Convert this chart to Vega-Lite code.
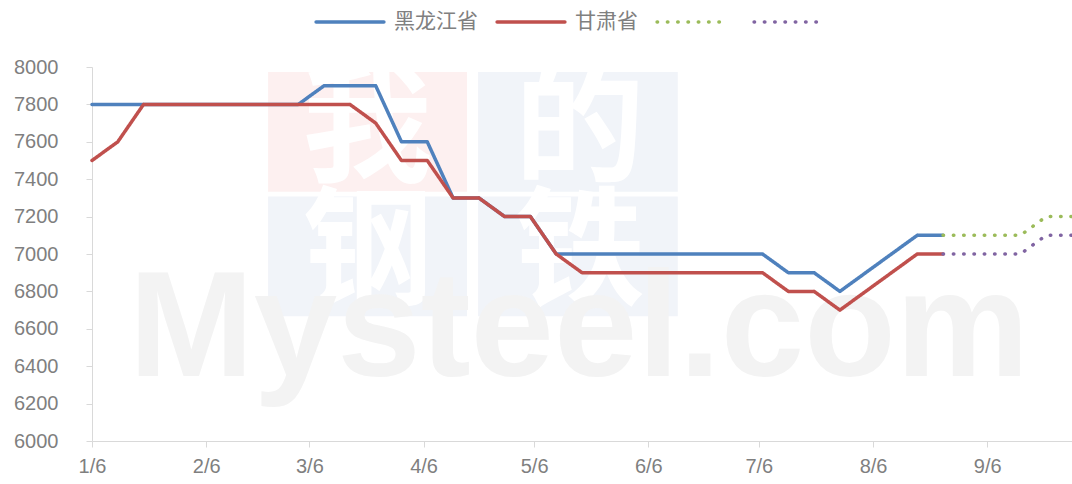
{
  "$schema": "https://vega.github.io/schema/vega-lite/v6.json",
  "width": 980,
  "height": 374,
  "autosize": "none",
  "padding": {"left": 92, "top": 67, "right": 0, "bottom": 43},
  "background": "white",
  "config": {
    "view": {"stroke": null},
    "font": "Liberation Sans",
    "axis": {"labelOverlap": false, "labelFlush": false, "grid": false, "title": null},
    "axisY": {"labelOverlap": false}
  },
  "layer": [
    {
      "data": {"values": [{"block": 1}]},
      "mark": {"type": "rect", "color": "#fdf0f0"},
      "encoding": {
        "x": {"datum": {"year": 2023, "month": 2, "date": 22, "hours": 19}, "type": "temporal"},
        "x2": {"datum": {"year": 2023, "month": 4, "date": 17, "hours": 19}},
        "y": {"datum": 7973, "type": "quantitative", "axis": {"title": null, "grid": false, "values": [6000, 6200, 6400, 6600, 6800, 7000, 7200, 7400, 7600, 7800, 8000], "format": "d", "domainColor": "#d9d9d9", "tickColor": "#d9d9d9", "tickSize": 6, "labelFontSize": 20, "labelColor": "#7f7f7f", "labelPadding": 28, "labelOverlap": false, "labelFlush": false}},
        "y2": {"datum": 7333}
      }
    },
    {
      "data": {"values": [{"block": 2}]},
      "mark": {"type": "rect", "color": "#f1f4f9"},
      "encoding": {
        "x": {"datum": {"year": 2023, "month": 4, "date": 20, "hours": 19}, "type": "temporal"},
        "x2": {"datum": {"year": 2023, "month": 6, "date": 14}},
        "y": {"datum": 7973, "type": "quantitative", "axis": {"title": null, "grid": false, "values": [6000, 6200, 6400, 6600, 6800, 7000, 7200, 7400, 7600, 7800, 8000], "format": "d", "domainColor": "#d9d9d9", "tickColor": "#d9d9d9", "tickSize": 6, "labelFontSize": 20, "labelColor": "#7f7f7f", "labelPadding": 28, "labelOverlap": false, "labelFlush": false}},
        "y2": {"datum": 7333}
      }
    },
    {
      "data": {"values": [{"block": 3}]},
      "mark": {"type": "rect", "color": "#f1f4f9"},
      "encoding": {
        "x": {"datum": {"year": 2023, "month": 2, "date": 22, "hours": 19}, "type": "temporal"},
        "x2": {"datum": {"year": 2023, "month": 4, "date": 17, "hours": 19}},
        "y": {"datum": 7307, "type": "quantitative", "axis": {"title": null, "grid": false, "values": [6000, 6200, 6400, 6600, 6800, 7000, 7200, 7400, 7600, 7800, 8000], "format": "d", "domainColor": "#d9d9d9", "tickColor": "#d9d9d9", "tickSize": 6, "labelFontSize": 20, "labelColor": "#7f7f7f", "labelPadding": 28, "labelOverlap": false, "labelFlush": false}},
        "y2": {"datum": 6667}
      }
    },
    {
      "data": {"values": [{"block": 4}]},
      "mark": {"type": "rect", "color": "#f1f4f9"},
      "encoding": {
        "x": {"datum": {"year": 2023, "month": 4, "date": 20, "hours": 19}, "type": "temporal"},
        "x2": {"datum": {"year": 2023, "month": 6, "date": 14}},
        "y": {"datum": 7307, "type": "quantitative", "axis": {"title": null, "grid": false, "values": [6000, 6200, 6400, 6600, 6800, 7000, 7200, 7400, 7600, 7800, 8000], "format": "d", "domainColor": "#d9d9d9", "tickColor": "#d9d9d9", "tickSize": 6, "labelFontSize": 20, "labelColor": "#7f7f7f", "labelPadding": 28, "labelOverlap": false, "labelFlush": false}},
        "y2": {"datum": 6667}
      }
    },
    {
      "data": {"values": [{"block": 1}]},
      "mark": {"type": "text", "text": "我", "font": "Noto Sans CJK SC", "fontWeight": "bold", "fontSize": 130, "color": "white", "align": "center", "baseline": "middle"},
      "encoding": {
        "x": {"datum": {"year": 2023, "month": 3, "date": 21, "hours": 19}, "type": "temporal"},
        "y": {"datum": 7653, "type": "quantitative", "axis": {"title": null, "grid": false, "values": [6000, 6200, 6400, 6600, 6800, 7000, 7200, 7400, 7600, 7800, 8000], "format": "d", "domainColor": "#d9d9d9", "tickColor": "#d9d9d9", "tickSize": 6, "labelFontSize": 20, "labelColor": "#7f7f7f", "labelPadding": 28, "labelOverlap": false, "labelFlush": false}}
      }
    },
    {
      "data": {"values": [{"block": 2}]},
      "mark": {"type": "text", "text": "的", "font": "Noto Sans CJK SC", "fontWeight": "bold", "fontSize": 130, "color": "white", "align": "center", "baseline": "middle"},
      "encoding": {
        "x": {"datum": {"year": 2023, "month": 5, "date": 18, "hours": 9}, "type": "temporal"},
        "y": {"datum": 7653, "type": "quantitative", "axis": {"title": null, "grid": false, "values": [6000, 6200, 6400, 6600, 6800, 7000, 7200, 7400, 7600, 7800, 8000], "format": "d", "domainColor": "#d9d9d9", "tickColor": "#d9d9d9", "tickSize": 6, "labelFontSize": 20, "labelColor": "#7f7f7f", "labelPadding": 28, "labelOverlap": false, "labelFlush": false}}
      }
    },
    {
      "data": {"values": [{"block": 3}]},
      "mark": {"type": "text", "text": "钢", "font": "Noto Sans CJK SC", "fontWeight": "bold", "fontSize": 130, "color": "white", "align": "center", "baseline": "middle"},
      "encoding": {
        "x": {"datum": {"year": 2023, "month": 3, "date": 21, "hours": 19}, "type": "temporal"},
        "y": {"datum": 6987, "type": "quantitative", "axis": {"title": null, "grid": false, "values": [6000, 6200, 6400, 6600, 6800, 7000, 7200, 7400, 7600, 7800, 8000], "format": "d", "domainColor": "#d9d9d9", "tickColor": "#d9d9d9", "tickSize": 6, "labelFontSize": 20, "labelColor": "#7f7f7f", "labelPadding": 28, "labelOverlap": false, "labelFlush": false}}
      }
    },
    {
      "data": {"values": [{"block": 4}]},
      "mark": {"type": "text", "text": "铁", "font": "Noto Sans CJK SC", "fontWeight": "bold", "fontSize": 130, "color": "white", "align": "center", "baseline": "middle"},
      "encoding": {
        "x": {"datum": {"year": 2023, "month": 5, "date": 18, "hours": 9}, "type": "temporal"},
        "y": {"datum": 6987, "type": "quantitative", "axis": {"title": null, "grid": false, "values": [6000, 6200, 6400, 6600, 6800, 7000, 7200, 7400, 7600, 7800, 8000], "format": "d", "domainColor": "#d9d9d9", "tickColor": "#d9d9d9", "tickSize": 6, "labelFontSize": 20, "labelColor": "#7f7f7f", "labelPadding": 28, "labelOverlap": false, "labelFlush": false}}
      }
    },
    {
      "data": {"values": [{"block": 5}]},
      "mark": {"type": "text", "text": "Mysteel.com", "font": "Liberation Sans", "fontWeight": "bold", "fontSize": 150, "color": "#f3f3f3", "align": "left", "baseline": "alphabetic"},
      "encoding": {
        "x": {"datum": {"year": 2023, "month": 1, "date": 16}, "type": "temporal"},
        "y": {"datum": 6347, "type": "quantitative", "axis": {"title": null, "grid": false, "values": [6000, 6200, 6400, 6600, 6800, 7000, 7200, 7400, 7600, 7800, 8000], "format": "d", "domainColor": "#d9d9d9", "tickColor": "#d9d9d9", "tickSize": 6, "labelFontSize": 20, "labelColor": "#7f7f7f", "labelPadding": 28, "labelOverlap": false, "labelFlush": false}}
      }
    },
    {
      "data": {
        "values": [
          {"date": "2023/01/06", "series": "黑龙江省", "price": 7800},
          {"date": "2023/01/13", "series": "黑龙江省", "price": 7800},
          {"date": "2023/01/20", "series": "黑龙江省", "price": 7800},
          {"date": "2023/01/27", "series": "黑龙江省", "price": 7800},
          {"date": "2023/02/03", "series": "黑龙江省", "price": 7800},
          {"date": "2023/02/10", "series": "黑龙江省", "price": 7800},
          {"date": "2023/02/17", "series": "黑龙江省", "price": 7800},
          {"date": "2023/02/24", "series": "黑龙江省", "price": 7800},
          {"date": "2023/03/03", "series": "黑龙江省", "price": 7800},
          {"date": "2023/03/10", "series": "黑龙江省", "price": 7900},
          {"date": "2023/03/17", "series": "黑龙江省", "price": 7900},
          {"date": "2023/03/24", "series": "黑龙江省", "price": 7900},
          {"date": "2023/03/31", "series": "黑龙江省", "price": 7600},
          {"date": "2023/04/07", "series": "黑龙江省", "price": 7600},
          {"date": "2023/04/14", "series": "黑龙江省", "price": 7300},
          {"date": "2023/04/21", "series": "黑龙江省", "price": 7300},
          {"date": "2023/04/28", "series": "黑龙江省", "price": 7200},
          {"date": "2023/05/05", "series": "黑龙江省", "price": 7200},
          {"date": "2023/05/12", "series": "黑龙江省", "price": 7000},
          {"date": "2023/05/19", "series": "黑龙江省", "price": 7000},
          {"date": "2023/05/26", "series": "黑龙江省", "price": 7000},
          {"date": "2023/06/02", "series": "黑龙江省", "price": 7000},
          {"date": "2023/06/09", "series": "黑龙江省", "price": 7000},
          {"date": "2023/06/16", "series": "黑龙江省", "price": 7000},
          {"date": "2023/06/23", "series": "黑龙江省", "price": 7000},
          {"date": "2023/06/30", "series": "黑龙江省", "price": 7000},
          {"date": "2023/07/07", "series": "黑龙江省", "price": 7000},
          {"date": "2023/07/14", "series": "黑龙江省", "price": 6900},
          {"date": "2023/07/21", "series": "黑龙江省", "price": 6900},
          {"date": "2023/07/28", "series": "黑龙江省", "price": 6800},
          {"date": "2023/08/04", "series": "黑龙江省", "price": 6900},
          {"date": "2023/08/11", "series": "黑龙江省", "price": 7000},
          {"date": "2023/08/18", "series": "黑龙江省", "price": 7100},
          {"date": "2023/08/25", "series": "黑龙江省", "price": 7100},
          {"date": "2023/01/06", "series": "甘肃省", "price": 7500},
          {"date": "2023/01/13", "series": "甘肃省", "price": 7600},
          {"date": "2023/01/20", "series": "甘肃省", "price": 7800},
          {"date": "2023/01/27", "series": "甘肃省", "price": 7800},
          {"date": "2023/02/03", "series": "甘肃省", "price": 7800},
          {"date": "2023/02/10", "series": "甘肃省", "price": 7800},
          {"date": "2023/02/17", "series": "甘肃省", "price": 7800},
          {"date": "2023/02/24", "series": "甘肃省", "price": 7800},
          {"date": "2023/03/03", "series": "甘肃省", "price": 7800},
          {"date": "2023/03/10", "series": "甘肃省", "price": 7800},
          {"date": "2023/03/17", "series": "甘肃省", "price": 7800},
          {"date": "2023/03/24", "series": "甘肃省", "price": 7700},
          {"date": "2023/03/31", "series": "甘肃省", "price": 7500},
          {"date": "2023/04/07", "series": "甘肃省", "price": 7500},
          {"date": "2023/04/14", "series": "甘肃省", "price": 7300},
          {"date": "2023/04/21", "series": "甘肃省", "price": 7300},
          {"date": "2023/04/28", "series": "甘肃省", "price": 7200},
          {"date": "2023/05/05", "series": "甘肃省", "price": 7200},
          {"date": "2023/05/12", "series": "甘肃省", "price": 7000},
          {"date": "2023/05/19", "series": "甘肃省", "price": 6900},
          {"date": "2023/05/26", "series": "甘肃省", "price": 6900},
          {"date": "2023/06/02", "series": "甘肃省", "price": 6900},
          {"date": "2023/06/09", "series": "甘肃省", "price": 6900},
          {"date": "2023/06/16", "series": "甘肃省", "price": 6900},
          {"date": "2023/06/23", "series": "甘肃省", "price": 6900},
          {"date": "2023/06/30", "series": "甘肃省", "price": 6900},
          {"date": "2023/07/07", "series": "甘肃省", "price": 6900},
          {"date": "2023/07/14", "series": "甘肃省", "price": 6800},
          {"date": "2023/07/21", "series": "甘肃省", "price": 6800},
          {"date": "2023/07/28", "series": "甘肃省", "price": 6700},
          {"date": "2023/08/04", "series": "甘肃省", "price": 6800},
          {"date": "2023/08/11", "series": "甘肃省", "price": 6900},
          {"date": "2023/08/18", "series": "甘肃省", "price": 7000},
          {"date": "2023/08/25", "series": "甘肃省", "price": 7000},
          {"date": "2023/08/25", "series": "黑龙江省预测", "price": 7100},
          {"date": "2023/09/01", "series": "黑龙江省预测", "price": 7100},
          {"date": "2023/09/08", "series": "黑龙江省预测", "price": 7100},
          {"date": "2023/09/15", "series": "黑龙江省预测", "price": 7100},
          {"date": "2023/09/22", "series": "黑龙江省预测", "price": 7200},
          {"date": "2023/09/29", "series": "黑龙江省预测", "price": 7200},
          {"date": "2023/08/25", "series": "甘肃省预测", "price": 7000},
          {"date": "2023/09/01", "series": "甘肃省预测", "price": 7000},
          {"date": "2023/09/08", "series": "甘肃省预测", "price": 7000},
          {"date": "2023/09/15", "series": "甘肃省预测", "price": 7000},
          {"date": "2023/09/22", "series": "甘肃省预测", "price": 7100},
          {"date": "2023/09/29", "series": "甘肃省预测", "price": 7100}
        ],
        "format": {"parse": {"date": "date"}}
      },
      "mark": {"type": "line", "strokeWidth": 3.5, "strokeCap": "round", "strokeJoin": "round"},
      "encoding": {
        "x": {
          "field": "date",
          "type": "temporal",
          "scale": {
            "domain": [
              {"year": 2023, "month": 1, "date": 6},
              {"year": 2023, "month": 9, "date": 29}
            ],
            "nice": false
          },
          "axis": {
            "title": null,
            "grid": false,
            "values": [
              {"year": 2023, "month": 1, "date": 6},
              {"year": 2023, "month": 2, "date": 6},
              {"year": 2023, "month": 3, "date": 6},
              {"year": 2023, "month": 4, "date": 6},
              {"year": 2023, "month": 5, "date": 6},
              {"year": 2023, "month": 6, "date": 6},
              {"year": 2023, "month": 7, "date": 6},
              {"year": 2023, "month": 8, "date": 6},
              {"year": 2023, "month": 9, "date": 6}
            ],
            "format": "%-m/%-d",
            "domainColor": "#d9d9d9",
            "domainWidth": 1,
            "tickColor": "#d9d9d9",
            "tickSize": 6,
            "labelFontSize": 20,
            "labelColor": "#7f7f7f",
            "labelPadding": 9,
            "labelOverlap": false,
            "labelFlush": false
          }
        },
        "y": {
          "field": "price",
          "type": "quantitative",
          "scale": {"domain": [6000, 8000], "nice": false, "zero": false},
          "axis": {
            "title": null,
            "grid": false,
            "values": [6000, 6200, 6400, 6600, 6800, 7000, 7200, 7400, 7600, 7800, 8000],
            "format": "d",
            "domainColor": "#d9d9d9",
            "tickColor": "#d9d9d9",
            "tickSize": 6,
            "labelFontSize": 20,
            "labelColor": "#7f7f7f",
            "labelPadding": 28,
            "labelOverlap": false,
            "labelFlush": false
          }
        },
        "color": {
          "field": "series",
          "type": "nominal",
          "scale": {
            "domain": ["黑龙江省", "甘肃省", "黑龙江省预测", "甘肃省预测"],
            "range": ["#4F81BD", "#C0504D", "#9BBB59", "#8064A2"]
          },
          "legend": {
            "title": null,
            "orient": "none",
            "direction": "horizontal",
            "legendX": 222,
            "legendY": -81,
            "symbolType": "stroke",
            "symbolSize": 4600,
            "symbolStrokeWidth": 3.5,
            "labelFont": "Noto Sans CJK SC",
            "labelFontSize": 21,
            "labelColor": "#808080",
            "labelOffset": 8,
            "columnPadding": 12,
            "labelLimit": 200,
            "labelExpr": "indexof(datum.label, '预测') >= 0 ? '' : datum.label",
            "encode": {"symbols": {"update": {"strokeCap": {"value": "round"}}}}
          }
        },
        "strokeDash": {
          "field": "series",
          "type": "nominal",
          "scale": {
            "domain": ["黑龙江省", "甘肃省", "黑龙江省预测", "甘肃省预测"],
            "range": [[1, 0], [1, 0], [0.5, 9.8], [0.5, 9.8]]
          }
        }
      }
    }
  ]
}
